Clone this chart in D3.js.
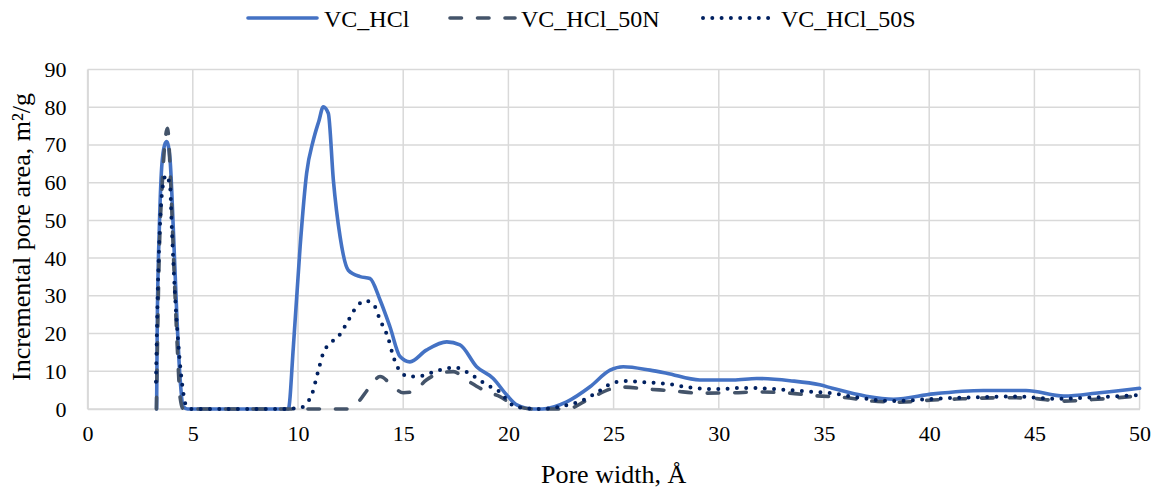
<!DOCTYPE html>
<html>
<head>
<meta charset="utf-8">
<script src="https://cdn.jsdelivr.net/npm/d3@7"></script>
<style>
  html, body { margin: 0; padding: 0; background: #fff; }
  svg { display: block; font-family: "Liberation Serif", "Times New Roman", serif; }
</style>
</head>
<body>
<svg id="chart" width="1161" height="492"></svg>
<script>
// Pore width (Å) vs incremental pore area (m²/g) for three carbons
const seriesNames = ["VC_HCl", "VC_HCl_50N", "VC_HCl_50S"];

const vcHCl = [
  [3.28,0],[3.31,22],[3.41,48],[3.52,64],[3.66,70],[3.76,70.9],[3.92,66],[4.07,48.3],[4.23,26.2],
  [4.39,8.6],[4.55,0.6],[4.75,0],[6,0],[7,0],[8,0],[9,0],[9.54,0],[9.78,16.5],[10.1,43],[10.41,62.5],
  [10.73,71.3],[11.0,76.5],[11.2,80.1],[11.44,78.4],[11.68,60.7],[12.0,45.7],[12.39,36.8],[12.95,35.1],
  [13.42,34.6],[13.9,28.9],[14.37,21.8],[14.85,13.9],[15.32,12.5],[16.1,15.6],[17.07,17.8],[17.7,17.0],
  [18.49,11.2],[19.28,8.1],[19.92,3.7],[20.4,1.1],[21.2,0],[21.6,0],[22.77,1.9],[23.88,5.9],[24.83,10.3],
  [25.46,11.2],[26.73,10.3],[27.52,9.5],[29.1,7.7],[30.69,7.7],[31.8,8.1],[33.38,7.5],[34.8,6.4],
  [35.4,5.5],[37.0,3.4],[38.3,2.6],[40.2,4.0],[42.57,4.9],[44.6,4.9],[46.4,3.4],[48.1,4.3],[50,5.5]
];

const vcHCl50N = [
  [3.27,0],[3.4,40],[3.55,60],[3.7,72],[3.8,74.4],[3.95,60],[4.1,38],[4.25,18],[4.4,3],[4.55,0],
  [6,0],[8,0],[10,0],[12.3,0],[12.8,1.5],[13.42,5.9],[13.9,8.6],[14.53,5.9],[15.0,4.3],[15.48,4.6],
  [16.1,7.7],[16.75,9.5],[17.38,9.9],[18.0,7.7],[18.97,4.6],[19.6,3.3],[20.23,1.1],[21.2,0],[22.77,0],
  [23.88,2.8],[24.99,5.5],[25.46,5.8],[26.57,5.3],[27.84,4.8],[29.1,4.2],[30.69,4.3],[31.8,4.5],
  [33.38,4.2],[34.65,3.5],[35.9,3.1],[37.3,2.1],[38.6,1.8],[40.2,2.4],[41.6,2.7],[43.7,3.0],
  [44.95,2.8],[46.4,2.1],[47.75,2.5],[50,3.5]
];

const vcHCl50S = [
  [3.25,7.2],[3.33,30],[3.45,50],[3.6,60],[3.73,62],[3.92,59],[4.0,48.3],[4.15,30.7],[4.31,17.5],
  [4.47,7.7],[4.71,0.6],[5.0,0],[7,0],[9,0],[10.1,0.3],[10.41,1.5],[10.65,3.7],[10.97,10.3],[11.2,14.8],
  [11.52,17.4],[11.92,19.2],[12.31,22.7],[12.79,27.1],[13.18,28.7],[13.58,27.8],[13.9,23.6],[14.29,18.7],
  [14.53,13.9],[14.93,9.5],[15.32,8.6],[15.8,8.7],[16.59,10.1],[17.46,11.0],[18.26,9.0],[18.97,6.4],
  [19.6,4.5],[20.08,1.5],[20.55,0.4],[21.5,0],[22.6,0.8],[23.56,2.4],[24.35,4.9],[24.99,7.0],[25.54,7.4],
  [26.73,7.0],[27.68,6.6],[28.6,5.7],[29.9,5.3],[31.25,5.6],[32.6,5.3],[34.3,4.6],[35.3,4.2],[36.55,3.1],
  [38.3,2.1],[40.2,2.7],[42.1,3.1],[44.15,3.3],[45.9,2.7],[47.5,3.0],[50,3.7]
];

const xTicks = [0, 5, 10, 15, 20, 25, 30, 35, 40, 45, 50];
const yTicks = [0, 10, 20, 30, 40, 50, 60, 70, 80, 90];

const xTitle = "Pore width, Å";
const yTitle = "Incremental pore area, m²/g";

// ---- layout ----
const svg = d3.select("#chart");
const plot = { left: 87.6, right: 1139.6, top: 69.5, bottom: 409 };

const x = d3.scaleLinear().domain([0, 50]).range([plot.left, plot.right]);
const y = d3.scaleLinear().domain([0, 90]).range([plot.bottom, plot.top]);

const styles = [
  { color: "#4472C4", width: 3.6, dash: null, cap: "round" },
  { color: "#44546A", width: 3.6, dash: "11.5,16", cap: "round" },
  { color: "#002060", width: 4.0, dash: "0,9.3", cap: "round" }
];

// gridlines
const grid = svg.append("g").attr("stroke", "#d9d9d9").attr("stroke-width", 1.5);
grid.selectAll("line.v").data(xTicks).join("line")
  .attr("x1", d => x(d)).attr("x2", d => x(d))
  .attr("y1", plot.top).attr("y2", plot.bottom);
grid.selectAll("line.h").data(yTicks).join("line")
  .attr("x1", plot.left).attr("x2", plot.right)
  .attr("y1", d => y(d)).attr("y2", d => y(d));

// axes (labels only, Excel-style)
const fontTick = 22;
const xAxis = svg.append("g").attr("transform", `translate(0,${plot.bottom})`)
  .call(d3.axisBottom(x).tickValues(xTicks).tickSize(0).tickPadding(16).tickFormat(d3.format("d")));
xAxis.select(".domain").attr("stroke", "#d9d9d9").attr("stroke-width", 1.5);
xAxis.selectAll("text").attr("font-size", fontTick).attr("fill", "#000")
  .attr("font-family", "Liberation Serif, Times New Roman, serif");

const yAxis = svg.append("g").attr("transform", `translate(${plot.left},0)`)
  .call(d3.axisLeft(y).tickValues(yTicks).tickSize(0).tickPadding(21).tickFormat(d3.format("d")));
yAxis.select(".domain").attr("stroke", "#d9d9d9").attr("stroke-width", 1.5);
yAxis.selectAll("text").attr("font-size", fontTick).attr("fill", "#000")
  .attr("font-family", "Liberation Serif, Times New Roman, serif");

// series lines
const line = d3.line().x(d => x(d[0])).y(d => y(d[1])).curve(d3.curveMonotoneX);
const allSeries = [vcHCl, vcHCl50N, vcHCl50S];
allSeries.forEach((data, i) => {
  const s = styles[i];
  svg.append("path")
    .datum(data)
    .attr("fill", "none")
    .attr("stroke", s.color)
    .attr("stroke-width", s.width)
    .attr("stroke-linecap", s.cap)
    .attr("stroke-linejoin", "round")
    .attr("stroke-dasharray", s.dash)
    .attr("d", line);
});

// axis titles
svg.append("text")
  .attr("x", (plot.left + plot.right) / 2).attr("y", 483)
  .attr("text-anchor", "middle").attr("font-size", 26).text(xTitle);

svg.append("text")
  .attr("transform", `translate(30,237) rotate(-90)`)
  .attr("text-anchor", "middle").attr("font-size", 26).text(yTitle);

// legend
const legendItems = [
  { x0: 248, x1: 317, tx: 324 },
  { x0: 450, x1: 515, tx: 521 },
  { x0: 703, x1: 773, tx: 781 }
];
const legend = svg.append("g");
legendItems.forEach((it, i) => {
  const s = styles[i];
  legend.append("line")
    .attr("x1", it.x0).attr("x2", it.x1).attr("y1", 18).attr("y2", 18)
    .attr("stroke", s.color).attr("stroke-width", s.width)
    .attr("stroke-linecap", s.cap).attr("stroke-dasharray", s.dash);
  legend.append("text")
    .attr("x", it.tx).attr("y", 27).attr("font-size", 24).text(seriesNames[i]);
});
</script>
</body>
</html>
